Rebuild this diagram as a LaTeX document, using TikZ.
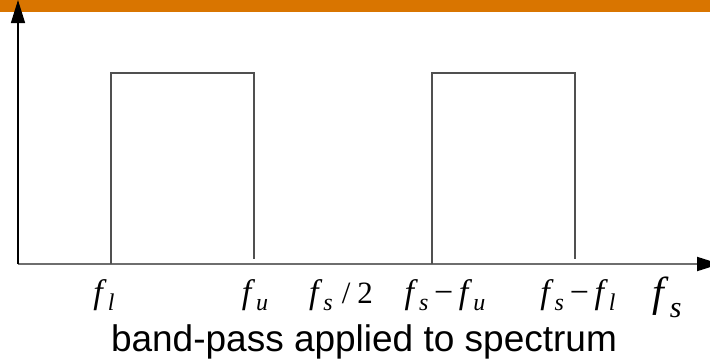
\documentclass[tikz,border=0pt]{standalone}
\usepackage{fontspec}
\setmainfont{Liberation Serif}
\newfontfamily\capfont{Liberation Sans}
\usepackage{tikz}
\usetikzlibrary{arrows.meta,positioning}
\definecolor{barOrange}{RGB}{217,117,0}
\definecolor{axisGrey}{RGB}{110,110,110}
\definecolor{bandGrey}{RGB}{80,80,80}
\newcommand{\fsub}[3][24]{\textit{f}\kern1pt\raisebox{#3}{\fontsize{#1}{#1}\selectfont\textit{#2}}}

\begin{document}
\begin{tikzpicture}[x=1pt,y=-1pt,
                    flabel/.style={anchor=base,inner sep=0pt,font=\fontsize{34}{34}\selectfont},
                    band/.style={bandGrey,line width=1.2pt}]
                    \useasboundingbox (0,0) rectangle (710,362);
                    \fill[barOrange] (0,0) rectangle (710,12);
                    
                    \coordinate (origin) at (18,264);
                    \coordinate (ytop) at (18,0);
                    \coordinate (xend) at (720,264);
                    \draw[axisGrey,line width=2pt,-{Triangle[length=23pt,width=14pt,color=black]}] (origin) -- (xend);
                    \draw[line width=1.3pt,-{Triangle[length=23pt,width=14pt]}] (origin) -- (ytop);
                    
                    \draw[band] (111,264) -- (111,73) -- (254,73) -- (254,259);
                    \draw[band] (432,264) -- (432,73) -- (575,73) -- (575,259);
                    
                    \node[flabel] (fl) at (104,303) {\fsub{l}{-7pt}};
                    \node[flabel] (fu) at (255,303) {\fsub{u}{-7pt}};
                    \node[flabel] (fhalf) at (341,303) {\fsub{s}{-7pt}\kern9pt{\fontsize{31}{31}\selectfont/\kern7pt2}};
                    \node[flabel] (fsu) at (445,303) {\fsub{s}{-7pt}\,−\,\fsub{u}{-7pt}};
                    \node[flabel] (fsl) at (578,303) {\fsub{s}{-7pt}\,−\,\fsub{l}{-7pt}};
                    \node[flabel,font=\fontsize{42}{42}\selectfont] (fs) at (667,306) {\fsub[30]{s}{-11pt}};
                    
                    \node[anchor=base,inner sep=0pt,font=\capfont\fontsize{37}{37}\selectfont] (caption) at (364,351) {band-pass applied to spectrum};
                \end{tikzpicture}
\end{document}
